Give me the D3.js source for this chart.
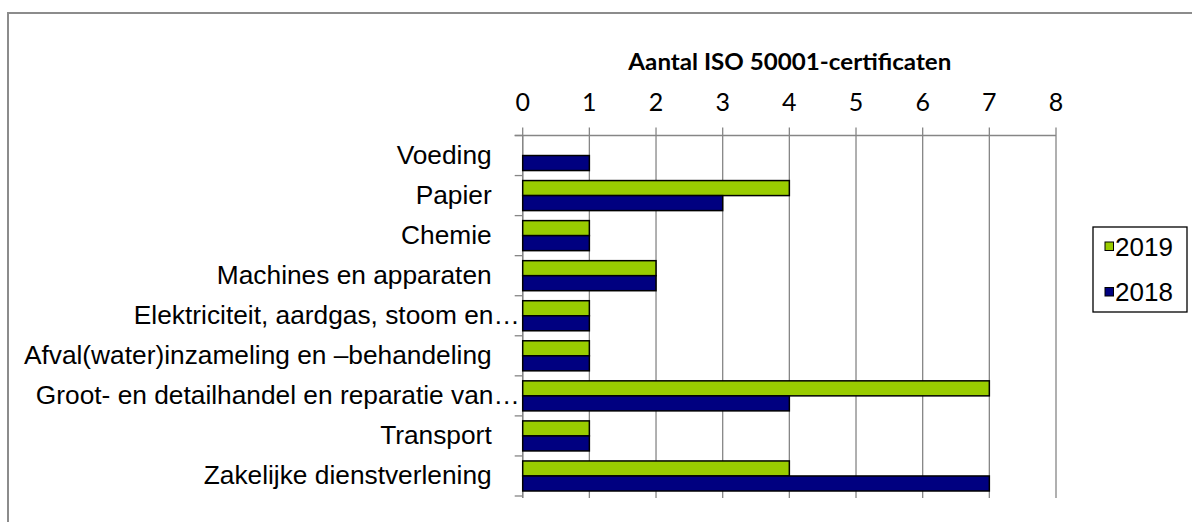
<!DOCTYPE html>
<html>
<head>
<meta charset="utf-8">
<script src="https://cdn.jsdelivr.net/npm/d3@7"></script>
<style>
  body { margin: 0; background: #fff; }
  svg { display: block; }
</style>
</head>
<body>
<div id="chart"></div>
<script>
// data
const categories = [
  "Voeding",
  "Papier",
  "Chemie",
  "Machines en apparaten",
  "Elektriciteit, aardgas, stoom en…",
  "Afval(water)inzameling en –behandeling",
  "Groot- en detailhandel en reparatie van…",
  "Transport",
  "Zakelijke dienstverlening"
];
const seriesNames = ["2019", "2018"];
const values2019 = [0, 4, 1, 2, 1, 1, 7, 1, 4];
const values2018 = [1, 3, 1, 2, 1, 1, 4, 1, 7];
const xTicks = [0, 1, 2, 3, 4, 5, 6, 7, 8];
const title = "Aantal ISO 50001-certificaten";

const width = 1192;
const height = 522;
const colors = { "2019": "#99cc00", "2018": "#000080" };
const grid = "#868686";

const svg = d3.select("#chart").append("svg")
  .attr("width", width)
  .attr("height", height);

// outer chart frame (right and bottom run off the page)
svg.append("rect")
  .attr("x", 8).attr("y", 13)
  .attr("width", width + 20).attr("height", height + 20)
  .attr("fill", "none")
  .attr("stroke", "#8c8c8c")
  .attr("stroke-width", 2);

const plot = { left: 522.7, right: 1056, top: 135.5, bottom: 496 };

const x = d3.scaleLinear().domain([0, 8]).range([plot.left, plot.right]);
const y = d3.scaleBand().domain(categories).range([plot.top, plot.bottom]).paddingInner(0).paddingOuter(0);
const inner = d3.scaleBand().domain(seriesNames).range([0, y.bandwidth()]).paddingOuter(0.333);

// vertical gridlines
svg.append("g")
  .selectAll("line")
  .data(xTicks)
  .join("line")
  .attr("x1", d => x(d)).attr("x2", d => x(d))
  .attr("y1", plot.top - 8).attr("y2", plot.bottom + 2)
  .attr("stroke", grid)
  .attr("stroke-width", 1.3);

// top axis line
svg.append("line")
  .attr("x1", plot.left - 8).attr("x2", plot.right)
  .attr("y1", plot.top).attr("y2", plot.top)
  .attr("stroke", grid).attr("stroke-width", 1.3);

// left axis line with category ticks
svg.append("line")
  .attr("x1", plot.left).attr("x2", plot.left)
  .attr("y1", plot.top).attr("y2", plot.bottom + 2)
  .attr("stroke", grid).attr("stroke-width", 1.3);

const bounds = categories.map(c => y(c)).concat([plot.bottom]);
svg.append("g")
  .selectAll("line")
  .data(bounds)
  .join("line")
  .attr("x1", plot.left - 8).attr("x2", plot.left)
  .attr("y1", d => d).attr("y2", d => d)
  .attr("stroke", grid).attr("stroke-width", 1.3);

// tick labels on top
svg.append("g")
  .selectAll("text")
  .data(xTicks)
  .join("text")
  .attr("x", d => x(d))
  .attr("y", 111)
  .attr("text-anchor", "middle")
  .attr("font-family", "Lato, 'Open Sans', sans-serif")
  .attr("font-size", 25)
  .attr("fill", "#000")
  .text(d => d);

// title
svg.append("text")
  .attr("x", (plot.left + plot.right) / 2 + 0.5)
  .attr("y", 70)
  .attr("text-anchor", "middle")
  .attr("font-family", "Lato, 'Open Sans', sans-serif")
  .attr("font-weight", "bold")
  .attr("font-size", 22)
  .attr("textLength", 323)
  .attr("lengthAdjust", "spacingAndGlyphs")
  .text(title);

// category labels
svg.append("g")
  .selectAll("text")
  .data(categories)
  .join("text")
  .attr("x", d => d.endsWith("…") ? plot.left - 3 : plot.left - 31)
  .attr("y", d => y(d) + y.bandwidth() / 2)
  .attr("dy", "0.32em")
  .attr("text-anchor", "end")
  .attr("font-family", "'Liberation Sans', Arial, sans-serif")
  .attr("font-size", 26.3)
  .attr("fill", "#000")
  .text(d => d);

// bars
const rows = categories.map((c, i) => ({ cat: c, "2019": values2019[i], "2018": values2018[i] }));
const barGroups = svg.append("g")
  .selectAll("g")
  .data(rows)
  .join("g")
  .attr("transform", d => `translate(0,${y(d.cat)})`);

barGroups.selectAll("rect")
  .data(d => seriesNames.map(s => ({ s, v: d[s] })).filter(e => e.v > 0))
  .join("rect")
  .attr("x", x(0))
  .attr("y", d => inner(d.s))
  .attr("width", d => x(d.v) - x(0))
  .attr("height", inner.bandwidth())
  .attr("fill", d => colors[d.s])
  .attr("stroke", "#000")
  .attr("stroke-width", 1.5);

// legend
const legend = svg.append("g");
legend.append("rect")
  .attr("x", 1093).attr("y", 227)
  .attr("width", 94).attr("height", 85)
  .attr("fill", "#fff")
  .attr("stroke", "#000")
  .attr("stroke-width", 1.3);

const legendY = d3.scalePoint().domain(seriesNames).range([246.5, 292]);
const items = legend.selectAll("g.item")
  .data(seriesNames)
  .join("g")
  .attr("class", "item");

items.append("rect")
  .attr("x", 1105)
  .attr("y", d => legendY(d) - 4.5)
  .attr("width", 8.5).attr("height", 8.5)
  .attr("fill", d => colors[d])
  .attr("stroke", "#000")
  .attr("stroke-width", 1);

items.append("text")
  .attr("x", 1115)
  .attr("y", d => legendY(d))
  .attr("dy", "0.35em")
  .attr("font-family", "'Liberation Sans', Arial, sans-serif")
  .attr("font-size", 26)
  .text(d => d);
</script>
</body>
</html>
